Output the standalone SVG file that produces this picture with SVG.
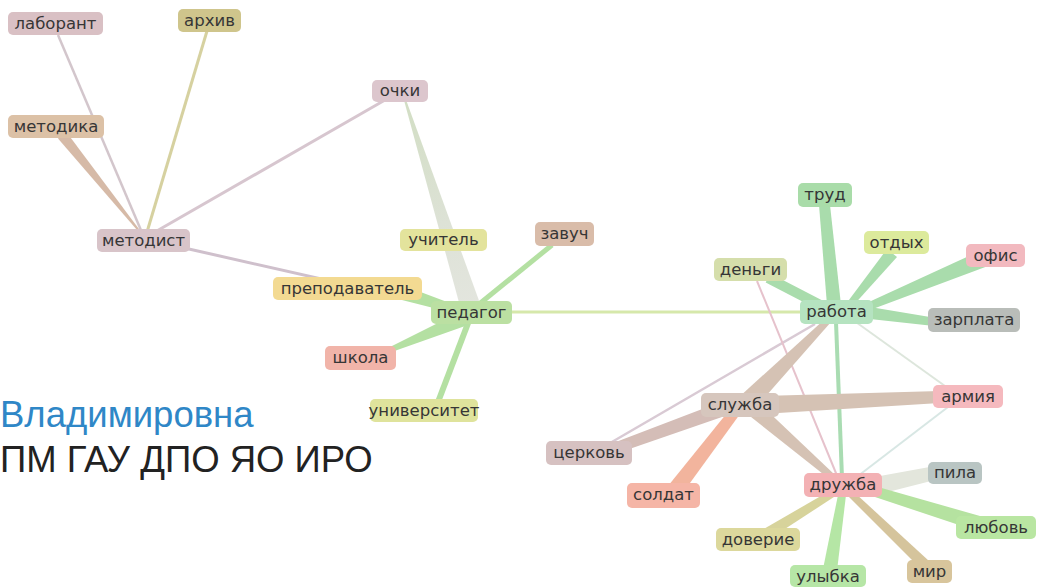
<svg xmlns="http://www.w3.org/2000/svg" width="1037" height="587" viewBox="0 0 1037 587">
<defs>
<style>
.n rect{rx:5;ry:5}
.n text{font-family:"DejaVu Sans","Noto Sans",sans-serif;font-size:16.5px;fill:#363636;text-anchor:middle}
.t{font-family:"Liberation Sans",Arial,sans-serif;font-size:36.5px}
.ln{fill:none;stroke-linecap:butt}
.g{fill:#b4e0a2}
.m{fill:#a9dcac}
.tan{fill:#d5c2b4}
</style>
<linearGradient id="ochkiGrad" gradientUnits="userSpaceOnUse" x1="405" y1="100" x2="470" y2="305">
<stop offset="0" stop-color="#d2dec4"/>
<stop offset="0.6" stop-color="#dde2d6"/>
<stop offset="1" stop-color="#e3e5de"/>
</linearGradient>
</defs>
<rect width="1037" height="587" fill="#ffffff"/>

<g id="title-text">
<text class="t" x="0" y="427" fill="#2f87c7">Владимировна</text>
<text class="t" x="0" y="472" fill="#222222">ПМ ГАУ ДПО ЯО ИРО</text>
</g>

<g id="connectors">
<!-- left cluster -->
<line class="ln" x1="58" y1="35" x2="143" y2="235" stroke="#d3c6cc" stroke-width="2.5"/>
<line class="ln" x1="207" y1="31" x2="147" y2="232" stroke="#d6d1a0" stroke-width="3"/>
<polygon points="66,131.5 140.8,231.4 139.2,232.6 58,138.5" fill="#d6baa7"/>
<line class="ln" x1="385" y1="100" x2="155" y2="232" stroke="#d7c6cf" stroke-width="3"/>
<line class="ln" x1="180" y1="247" x2="450" y2="308" stroke="#cfc0cc" stroke-width="3"/>
<polygon points="406,99.7 479.5,302 460.5,308 404,100.3" fill="url(#ochkiGrad)"/>
<!-- pedagog -->
<line class="ln" x1="552" y1="245" x2="478" y2="305" stroke="#b4e0a2" stroke-width="5"/>
<polygon class="g" points="402,285 471,311 469,317 398,299"/>
<polygon class="g" points="384,350 462,311 468,325 386,354"/>
<line class="ln" x1="438" y1="402" x2="470" y2="318" stroke="#b4e0a2" stroke-width="6"/>
<line class="ln" x1="512" y1="312" x2="800" y2="312" stroke="#d6e8ab" stroke-width="3"/>
<!-- rabota -->
<polygon class="m" points="819,205 830,205 841,305 827,305"/>
<polygon class="m" points="887,249 897,257 851,308 846,304"/>
<polygon class="m" points="982,250 988,266 862,313 858,307"/>
<line class="ln" x1="768" y1="278" x2="824" y2="307" stroke="#a9dcac" stroke-width="10"/>
<polygon class="m" points="870,307 936,318 934,326 870,319"/>
<line class="ln" x1="836" y1="322" x2="842" y2="478" stroke="#a9dcb2" stroke-width="4"/>
<line class="ln" x1="815" y1="324" x2="605" y2="446" stroke="#d9cad4" stroke-width="2.5"/>
<line class="ln" x1="757" y1="281" x2="838" y2="478" stroke="#e6c2cc" stroke-width="2"/>
<line class="ln" x1="853" y1="320" x2="945" y2="386" stroke="#dde6dc" stroke-width="2"/>
<line class="ln" x1="948" y1="407" x2="858" y2="476" stroke="#d8e7e4" stroke-width="2"/>
<!-- sluzhba -->
<polygon class="tan" points="826,318 831,322 752,412 738,398"/>
<polygon class="tan" points="760,396 940,391 940,403 760,414"/>
<polygon points="718,403 722,417 612,455 608,445" fill="#d4bdb7"/>
<polygon points="731,408 740,414 682,494 668,486" fill="#f2b49d"/>
<polygon class="tan" points="760.2,404 840,479.7 836,484.3 749.8,416"/>
<!-- druzhba -->
<polygon points="880,476 935,466 935,480 880,494" fill="#e3e6dc"/>
<polygon points="871,485 987,518 983,533 869,495" fill="#b5e2a0"/>
<polygon points="833,489 837,495 768,540 762,530" fill="#d7d39b"/>
<polygon points="838,495 846,495 837,571 823,569" fill="#b5e6a5"/>
<polygon points="849,497 855,493 929,561 921,569" fill="#d5c49c"/>
</g>

<g id="node-laborant" class="n"><rect x="8" y="12" width="95" height="23" fill="#d9c0c4"/><text x="55.5" y="29">лаборант</text></g>
<g id="node-arhiv" class="n"><rect x="178" y="9" width="63" height="23" fill="#cfc58c"/><text x="209.5" y="26">архив</text></g>
<g id="node-metodika" class="n"><rect x="8" y="115" width="96" height="23" fill="#dcc1a6"/><text x="56" y="132">методика</text></g>
<g id="node-ochki" class="n"><rect x="372" y="80" width="56" height="22" fill="#dcc6cd"/><text x="400" y="96">очки</text></g>
<g id="node-metodist" class="n"><rect x="97" y="229" width="93" height="23" fill="#d8c4c9"/><text x="143.5" y="246">методист</text></g>
<g id="node-uchitel" class="n"><rect x="400" y="229" width="87" height="22" fill="#e3e39c"/><text x="443.5" y="245">учитель</text></g>
<g id="node-zavuch" class="n"><rect x="535" y="222" width="59" height="24" fill="#d9bca9"/><text x="564.5" y="239">завуч</text></g>
<g id="node-prepodavatel" class="n"><rect x="273" y="277" width="149" height="23" fill="#f3da92"/><text x="347.5" y="294">преподаватель</text></g>
<g id="node-pedagog" class="n"><rect x="431" y="301" width="81" height="23" fill="#bbe0a2"/><text x="471.5" y="318">педагог</text></g>
<g id="node-shkola" class="n"><rect x="325" y="346" width="71" height="24" fill="#f1b4a9"/><text x="360.5" y="363">школа</text></g>
<g id="node-universitet" class="n"><rect x="370" y="399" width="108" height="23" fill="#dfe39c"/><text x="424" y="416">университет</text></g>
<g id="node-trud" class="n"><rect x="798" y="183" width="54" height="24" fill="#a9dca9"/><text x="825" y="200">труд</text></g>
<g id="node-otdyh" class="n"><rect x="864" y="231" width="65" height="23" fill="#dcea9c"/><text x="896.5" y="248">отдых</text></g>
<g id="node-ofis" class="n"><rect x="966" y="244" width="59" height="23" fill="#f2b9bf"/><text x="995.5" y="261">офис</text></g>
<g id="node-dengi" class="n"><rect x="714" y="258" width="73" height="23" fill="#d5deab"/><text x="750.5" y="275">деньги</text></g>
<g id="node-rabota" class="n"><rect x="800" y="300" width="73" height="24" fill="#b5e3c0"/><text x="836.5" y="317">работа</text></g>
<g id="node-zarplata" class="n"><rect x="928" y="308" width="92" height="24" fill="#b9bdb9"/><text x="974" y="325">зарплата</text></g>
<g id="node-armiya" class="n"><rect x="933" y="385" width="70" height="23" fill="#f5b9be"/><text x="968" y="402">армия</text></g>
<g id="node-sluzhba" class="n"><rect x="701" y="393" width="78" height="24" fill="#d6c6bd"/><text x="740" y="410">служба</text></g>
<g id="node-tserkov" class="n"><rect x="546" y="441" width="86" height="24" fill="#d6c1c1"/><text x="589" y="458">церковь</text></g>
<g id="node-pila" class="n"><rect x="928" y="462" width="54" height="22" fill="#b9c5c3"/><text x="955" y="478">пила</text></g>
<g id="node-druzhba" class="n"><rect x="804" y="473" width="78" height="24" fill="#f3b1b4"/><text x="843" y="490">дружба</text></g>
<g id="node-soldat" class="n"><rect x="627" y="483" width="73" height="25" fill="#f5b5a6"/><text x="663.5" y="500">солдат</text></g>
<g id="node-doverie" class="n"><rect x="716" y="528" width="84" height="23" fill="#dcd89c"/><text x="758" y="545">доверие</text></g>
<g id="node-lyubov" class="n"><rect x="956" y="516" width="80" height="23" fill="#b9e6a2"/><text x="996" y="533">любовь</text></g>
<g id="node-ulybka" class="n"><rect x="790" y="565" width="76" height="22" fill="#b6e6a6"/><text x="828" y="582">улыбка</text></g>
<g id="node-mir" class="n"><rect x="907" y="560" width="45" height="23" fill="#d8c59c"/><text x="929.5" y="577">мир</text></g>
</svg>
